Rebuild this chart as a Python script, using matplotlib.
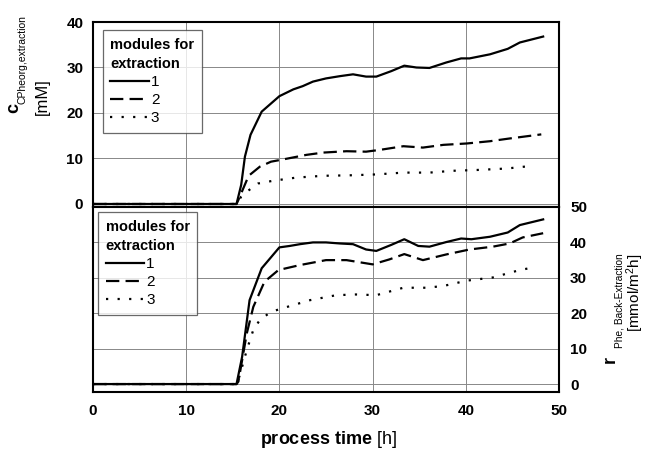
import matplotlib
matplotlib.use("Agg")
import matplotlib.pyplot as plt

plt.rcParams['font.family'] = ['Liberation Sans', 'DejaVu Sans']
plt.rcParams['mathtext.fontset'] = 'custom'
plt.rcParams['mathtext.rm'] = 'Liberation Sans'
plt.rcParams['mathtext.bf'] = 'Liberation Sans:bold'
plt.rcParams['mathtext.it'] = 'Liberation Sans:italic'

# ---- data: top panel (concentration, mM) ----
t1_top = [0, 15.4, 15.9, 16.3, 16.9, 18.1, 20.0, 21.5, 22.5, 23.6, 25.0, 26.5, 27.9, 29.3, 30.4,
          32.0, 33.4, 34.7, 36.1, 37.9, 39.5, 40.4, 42.6, 44.5, 45.8, 48.3]
c1_top = [0, 0, 4.2, 10.4, 15.2, 20.3, 23.7, 25.2, 25.9, 26.9, 27.6, 28.1, 28.5, 28.0, 28.0,
          29.2, 30.4, 30.0, 29.9, 31.1, 32.0, 32.0, 32.9, 34.1, 35.5, 36.8]
t2_top = [0, 15.4, 15.6, 16.7, 17.9, 19.1, 20.4, 22.9, 24.7, 27.2, 29.3, 30.8, 33.3, 35.4,
          37.6, 40.1, 42.6, 44.7, 48.1]
c2_top = [0, 0, 0.9, 6.2, 8.2, 9.3, 9.8, 10.8, 11.3, 11.6, 11.5, 11.9, 12.7, 12.4,
          13.0, 13.3, 13.8, 14.4, 15.3]
t3_top = [0, 15.4, 15.9, 16.5, 17.7, 19.3, 21.8, 24.7, 27.5, 30.4, 33.3, 36.1, 38.6, 41.5, 44.4, 47.2]
c3_top = [0, 0, 1.6, 2.7, 4.5, 5.1, 5.8, 6.2, 6.3, 6.5, 6.9, 6.9, 7.3, 7.5, 7.8, 8.4]

# ---- data: bottom panel (back-extraction rate, mmol/m2h) ----
t1_bot = [0, 15.4, 16.0, 16.8, 18.1, 20.0, 21.1, 22.2, 23.6, 25.0, 26.5, 27.9, 29.3, 30.4,
          32.0, 33.4, 34.9, 36.1, 37.9, 39.5, 40.6, 42.6, 44.5, 45.8, 48.3]
r1_bot = [0, 0, 7.7, 23.7, 32.7, 38.6, 39.0, 39.5, 40.0, 40.0, 39.7, 39.5, 38.0, 37.6,
          39.3, 40.9, 39.0, 38.8, 40.1, 41.1, 40.9, 41.6, 42.8, 44.9, 46.5]
t2_bot = [0, 15.4, 15.6, 16.5, 17.2, 18.4, 19.9, 22.2, 25.0, 27.2, 30.0, 31.8, 33.4, 35.4,
          37.9, 40.4, 42.9, 44.7, 46.1, 48.3]
r2_bot = [0, 0, 0.7, 14.3, 21.8, 28.9, 32.2, 33.6, 35.0, 35.0, 33.8, 35.2, 36.7, 35.0,
          36.6, 38.0, 38.8, 39.7, 41.4, 42.6]
t3_bot = [0, 15.4, 15.7, 16.5, 17.2, 17.9, 19.1, 21.1, 23.3, 26.1, 28.2, 30.4, 33.3, 35.8,
          37.6, 40.1, 42.9, 45.8, 47.2]
r3_bot = [0, 0, 2.1, 9.6, 15.3, 18.1, 20.4, 22.0, 23.7, 25.1, 25.3, 25.1, 27.2, 27.2,
          27.7, 29.2, 30.1, 32.2, 32.9]

labels = ['1', '2', '3']
xticks = [0, 10, 20, 30, 40, 50]
yticks_top = [0, 10, 20, 30, 40]
yticks_bot = [0, 10, 20, 30, 40, 50]

W, H = 645, 449
fig = plt.figure(figsize=(W / 100, H / 100), dpi=100)

left, right = 93 / W, 559 / W
ax1 = fig.add_axes([left, 1 - 207 / H, right - left, (207 - 22) / H])
ax2 = fig.add_axes([left, 1 - 391.5 / H, right - left, (391.5 - 207) / H])

styles = [dict(ls='-'), dict(ls=(0, (6.0, 2.8))), dict(ls=(0, (1.0, 4.2)))]
lw = 1.6

for ax, data in [(ax1, [(t1_top, c1_top), (t2_top, c2_top), (t3_top, c3_top)]),
                 (ax2, [(t1_bot, r1_bot), (t2_bot, r2_bot), (t3_bot, r3_bot)])]:
    for (t, v), st, lab in zip(data, styles, labels):
        ax.plot(t, v, color='black', lw=lw, label=lab, **st)
    ax.set_xlim(0, 50)
    ax.set_xticks(xticks)
    ax.grid(True, color='#888888', lw=0.7)
    ax.set_axisbelow(True)
    for s in ax.spines.values():
        s.set_linewidth(1.5)
        s.set_color('black')
    ax.tick_params(length=0, labelsize=11)
    leg = ax.legend(title='modules for\nextraction', loc='upper left',
                    fontsize=11, title_fontproperties={'weight': 'bold', 'size': 10.5},
                    frameon=True, fancybox=False, edgecolor='#444444',
                    handlelength=2.5, handletextpad=0.15, labelspacing=0.28,
                    borderaxespad=0.0, borderpad=0.5,
                    bbox_to_anchor=(9.7 / 466, 1 - 8 / 185) if ax is ax1 else (5 / 466, 1 - 5 / 184.5))
    leg._legend_box.align = 'left'
    leg.get_title().set_linespacing(1.45)
    leg.get_frame().set_linewidth(0.9)

ax1.set_ylim(-0.66, 40)
ax1.set_yticks(yticks_top)
ax1.tick_params(axis='x', labelbottom=False)
ax2.set_ylim(-2.1, 50)
ax2.set_yticks(yticks_bot)
ax2.yaxis.tick_right()
ax2.tick_params(axis='y', labelleft=False, labelright=True, pad=8)
ax1.tick_params(axis='y', pad=7)
ax2.tick_params(axis='x', pad=9)

for ax in (ax1, ax2):
    for lbl in ax.get_xticklabels() + ax.get_yticklabels():
        lbl.set_fontweight('bold')

# left y label: bold "c" with condensed subscript, then unit
fig.text(14 / W, 1 - 113 / H, 'c', rotation=90, ha='center', va='bottom',
         fontsize=13, fontweight='bold')
fig.text(23 / W, 1 - 104 / H, 'CPheorg,extraction', rotation=90, ha='center', va='bottom',
         fontsize=7.5, family=['Liberation Sans Narrow', 'Liberation Sans', 'DejaVu Sans'])
fig.text(42 / W, 1 - 115 / H, '[mM]', rotation=90, ha='center', va='bottom', fontsize=12)

# right y label
fig.text(610 / W, 1 - 363 / H, 'r', rotation=90, ha='center', va='bottom',
         fontsize=13, fontweight='bold')
fig.text(619 / W, 1 - 253 / H, 'Phe, Back-Extraction', rotation=90, ha='center', va='top',
         fontsize=7.3)
fig.text(635 / W, 1 - 253 / H, r'[mmol/m$^2$h]', rotation=90, ha='center', va='top', fontsize=11)

# x label
fig.text(328 / W, 1 - 440 / H, r'$\mathbf{process\ time}$ [h]', ha='center', va='center', fontsize=13)

fig.savefig('out.png', dpi=100)
